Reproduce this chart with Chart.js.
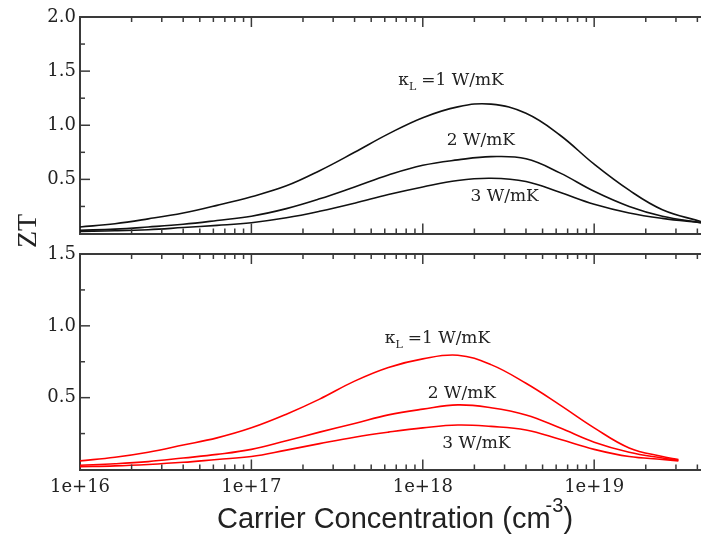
<!DOCTYPE html>
<html>
<head>
<meta charset="utf-8">
<script src="https://cdn.jsdelivr.net/npm/chart.js@4/dist/chart.umd.min.js"></script>
<style>
  html, body { margin: 0; padding: 0; background: #fff; overflow: hidden; }
  #wrap { position: relative; width: 701px; height: 534px; }
  canvas { position: absolute; left: 0; }
  #ylab { position: absolute; left: -3px; top: 215px; width: 60px; line-height: 30px; text-align: center;
          font: 28px "Liberation Serif", serif; color: #222; transform: rotate(-90deg); }
  #xlab { position: absolute; left: 217px; top: 502px; line-height: 29px; white-space: nowrap;
          font: 29px "Liberation Sans", sans-serif; color: #222; }
  #xlab span { font-size: 20px; position: relative; top: -16px; margin-left: -5px; }
</style>
</head>
<body>
<div id="wrap">
  <canvas id="top" width="701" height="236" style="top:0"></canvas>
  <canvas id="bot" width="701" height="298" style="top:236px"></canvas>
  <div id="ylab">ZT</div>
  <div id="xlab">Carrier Concentration (cm<span>-3</span>)</div>
</div>
<script>
// carrier concentration (cm^-3) and ZT
const concTop = [1e16, 1.6e16, 2.5e16, 4e16, 6.3e16, 1e17, 1.6e17, 2.5e17, 4e17, 6.3e17, 1e18, 1.6e18, 2.5e18, 4e18, 6.3e18, 1e19, 1.6e19, 2.5e19, 4.2e19];
const ztTop1 = [0.06, 0.09, 0.135, 0.19, 0.26, 0.34, 0.44, 0.58, 0.75, 0.92, 1.07, 1.17, 1.195, 1.11, 0.91, 0.64, 0.40, 0.22, 0.11];
const ztTop2 = [0.03, 0.04, 0.06, 0.085, 0.12, 0.16, 0.23, 0.32, 0.43, 0.54, 0.63, 0.68, 0.71, 0.69, 0.56, 0.39, 0.25, 0.16, 0.10];
const ztTop3 = [0.02, 0.025, 0.035, 0.055, 0.075, 0.10, 0.145, 0.205, 0.28, 0.36, 0.43, 0.49, 0.51, 0.48, 0.38, 0.27, 0.19, 0.14, 0.10];

const concBot = [1e16, 1.6e16, 2.5e16, 4e16, 6.3e16, 1e17, 1.6e17, 2.5e17, 4e17, 6.3e17, 1e18, 1.6e18, 2.5e18, 4e18, 6.3e18, 1e19, 1.6e19, 2.5e19, 3.1e19];
const ztBot1 = [0.06, 0.085, 0.12, 0.17, 0.22, 0.29, 0.385, 0.49, 0.615, 0.71, 0.77, 0.795, 0.73, 0.60, 0.45, 0.29, 0.15, 0.09, 0.07];
const ztBot2 = [0.03, 0.04, 0.055, 0.08, 0.105, 0.14, 0.20, 0.26, 0.32, 0.38, 0.42, 0.45, 0.43, 0.38, 0.29, 0.19, 0.12, 0.08, 0.065];
const ztBot3 = [0.02, 0.025, 0.035, 0.05, 0.07, 0.09, 0.135, 0.18, 0.225, 0.26, 0.29, 0.31, 0.30, 0.275, 0.21, 0.14, 0.09, 0.07, 0.06];

// ticks
const xMajor = [1e16, 1e17, 1e18, 1e19];
const xTickLabels = ["1e+16", "1e+17", "1e+18", "1e+19"];
const xMin = 1e16, xMax = 4.2e19;
const topYMajor = [0, 0.5, 1.0, 1.5, 2.0];
const topYLabels = ["", "0.5", "1.0", "1.5", "2.0"];
const topYMinor = [0.25, 0.75, 1.25, 1.75];
const botYMajor = [0, 0.5, 1.0, 1.5];
const botYLabels = ["", "0.5", "1.0", "1.5"];
const botYMinor = [0.25, 0.75, 1.25];

let xMinor = [];
for (let m of xMajor) for (let k = 2; k <= 9; k++) if (m * k <= xMax) xMinor.push(m * k);

const AX = "#3a3a3a";
const tickFont = { family: "DejaVu Serif", size: 18 };

// inward tick marks, placed by the chart's own scales
const inTicks = {
  id: "inticks",
  afterDraw(chart, args, o) {
    const { ctx, chartArea: a, scales } = chart;
    ctx.save();
    ctx.strokeStyle = AX;
    ctx.lineWidth = 1.5;
    const seg = (x1, y1, x2, y2) => { ctx.beginPath(); ctx.moveTo(x1, y1); ctx.lineTo(x2, y2); ctx.stroke(); };
    for (const [vals, len] of [[xMajor, 10], [xMinor, 5]]) {
      for (const v of vals) {
        const px = scales.x.getPixelForValue(v);
        if (px <= a.left + 1 || px >= a.right) continue;
        seg(px, a.bottom, px, a.bottom - len);
        seg(px, a.top, px, a.top + len);
      }
    }
    for (const [vals, len] of [[o.yMajor, 10], [o.yMinor, 5]]) {
      for (const v of vals) {
        const py = scales.y.getPixelForValue(v);
        if (py >= a.bottom - 1 || py <= a.top + 1) continue;
        seg(a.left, py, a.left + len, py);
      }
    }
    ctx.restore();
  }
};

const notesPlugin = {
  id: "notes",
  afterDraw(chart, args, opts) {
    const ctx = chart.ctx, xs = chart.scales.x, ys = chart.scales.y;
    ctx.save();
    ctx.fillStyle = "#222";
    ctx.textBaseline = "alphabetic";
    for (const n of opts.items) {
      let px = xs.getPixelForValue(n.x), py = ys.getPixelForValue(n.y);
      ctx.font = '17px "DejaVu Serif"';
      if (n.kappa) {
        ctx.fillText("κ", px, py);
        px += ctx.measureText("κ").width;
        ctx.font = '11px "DejaVu Serif"';
        ctx.fillText("L", px, py + 5);
        px += ctx.measureText("L").width + 5;
        ctx.font = '17px "DejaVu Serif"';
      }
      ctx.fillText(n.text, px, py);
    }
    ctx.restore();
  }
};

const noPad = s => { s.paddingTop = 0; s.paddingBottom = 0; s.paddingLeft = 0; s.paddingRight = 0; };

function logAxis(pos, size, labels) {
  return {
    type: "logarithmic", position: pos, min: xMin, max: xMax,
    afterBuildTicks: s => { s.ticks = xMajor.map(v => ({ value: v })); },
    ticks: labels ? { display: true, autoSkip: false, maxRotation: 0, font: tickFont, color: "#222", padding: 7,
                      callback: (v, i) => labels[i] } : { display: false },
    grid: { drawOnChartArea: false, drawTicks: false },
    border: { display: true, width: 2, color: AX },
    afterFit: s => { s.height = size; noPad(s); }
  };
}

function panel(id, conc, series, color, yMax, yMajor, yLabels, yMinor, topH, botH, xLabels, notes) {
  new Chart(document.getElementById(id), {
    type: "line",
    data: {
      datasets: series.map(vals => ({
        data: conc.map((c, i) => ({ x: c, y: vals[i] })),
        borderColor: color, borderWidth: 1.6, pointRadius: 0, pointHoverRadius: 0,
        tension: 0.4, fill: false
      }))
    },
    options: {
      responsive: false, animation: false, events: [],
      layout: { padding: 0, autoPadding: false },
      plugins: {
        legend: { display: false }, tooltip: { enabled: false },
        notes: { items: notes },
        inticks: { yMajor: yMajor, yMinor: yMinor }
      },
      scales: {
        x: logAxis("bottom", botH, xLabels),
        xt: logAxis("top", topH, null),
        y: {
          type: "linear", position: "left", min: 0, max: yMax,
          afterBuildTicks: s => { s.ticks = yMajor.map(v => ({ value: v })); },
          ticks: { font: tickFont, color: "#222", padding: 4, callback: (v, i) => yLabels[i] },
          grid: { drawOnChartArea: false, drawTicks: false },
          border: { display: true, width: 2, color: AX },
          afterFit: s => { s.width = 80; noPad(s); }
        }
      }
    },
    plugins: [inTicks, notesPlugin]
  });
}

panel("top", concTop, [ztTop1, ztTop2, ztTop3], "#111", 2.0, topYMajor, topYLabels, topYMinor, 17, 2.5, null, [
  { x: 7.2e17, y: 1.37, text: "=1 W/mK", kappa: true },
  { x: 1.38e18, y: 0.82, text: "2 W/mK" },
  { x: 1.9e18, y: 0.30, text: "3 W/mK" }
]);

panel("bot", concBot, [ztBot1, ztBot2, ztBot3], "#ff0000", 1.5, botYMajor, botYLabels, botYMinor, 18, 64.5, xTickLabels, [
  { x: 6.0e17, y: 0.88, text: "=1 W/mK", kappa: true },
  { x: 1.07e18, y: 0.50, text: "2 W/mK" },
  { x: 1.3e18, y: 0.15, text: "3 W/mK" }
]);
</script>
</body>
</html>
